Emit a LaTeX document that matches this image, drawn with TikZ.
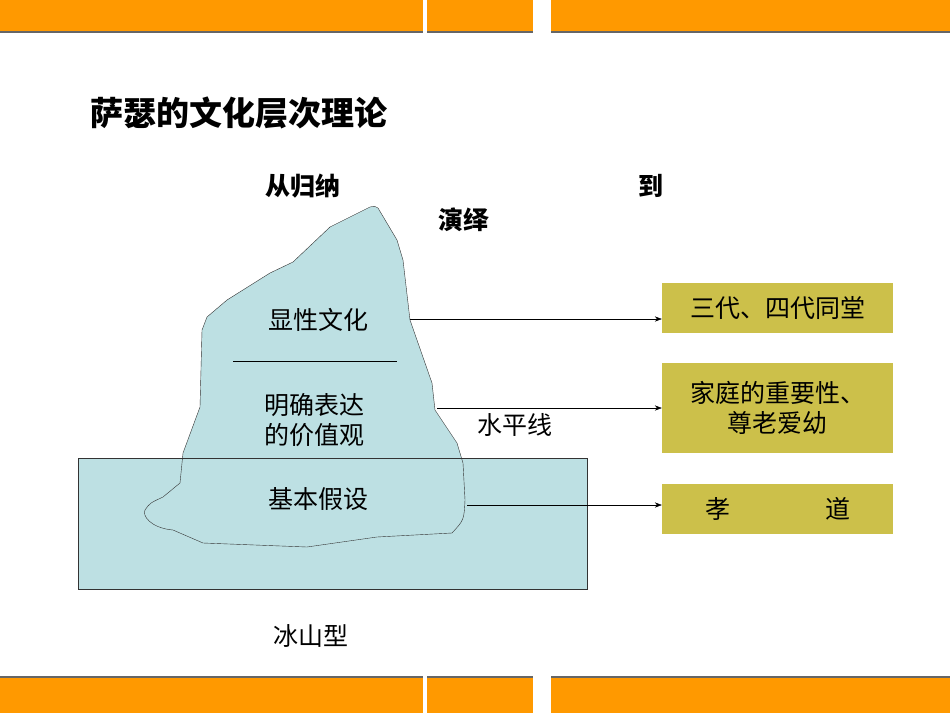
\documentclass[tikz,border=0pt]{standalone}
\usepackage{fontspec}
\usetikzlibrary{arrows.meta}
\newfontfamily\cjk{Noto Sans CJK SC}
\definecolor{orng}{HTML}{FF9900}
\definecolor{ice}{HTML}{BDE0E3}
\definecolor{olive}{HTML}{CCC04A}
\begin{document}
\begin{tikzpicture}[x=1pt,y=-1pt,
  txt/.style={font=\cjk\fontsize{25}{30}\selectfont,align=center,inner sep=0},
  btxt/.style={font=\cjk\bfseries\fontsize{25}{28}\selectfont,inner sep=0},
  obox/.style={fill=olive,draw=none},
  arr/.style={-{Stealth[length=7pt]},thin}]
\useasboundingbox (0,0) rectangle (950,713);
\fill[orng] (0,0) rectangle (950,31);
\fill[black!60] (0,31) rectangle (950,33);
\fill[white] (423,0) rectangle (427,33);
\fill[white] (533,0) rectangle (551,33);
\fill[orng] (0,678) rectangle (950,713);
\fill[black!60] (0,676) rectangle (950,678);
\fill[white] (423,676) rectangle (427,713);
\fill[white] (533,676) rectangle (551,713);
\node[btxt,font=\cjk\bfseries\fontsize{33}{36}\selectfont,anchor=west] (title) at (90,113) {萨瑟的文化层次理论};
\node[btxt] (a) at (303,186) {从归纳};
\node[btxt] (b) at (651,186) {到};
\node[btxt] (c) at (463,220) {演绎};
\fill[ice] (78,458) rectangle (587,589);
\def\ice{(370,207) .. controls (375,206) .. (378,208) -- (397,240) -- (403,260) -- (410,320) -- (432,383) -- (435,410) -- (457,443) -- (463,463) -- (465,500) .. controls (464,520) .. (452,533) -- (377,537) -- (307,547) -- (203,543) -- (173,530) .. controls (150,528) and (142,515) .. (145,510) .. controls (150,503) .. (163,497) -- (180,483) -- (183,453) -- (200,407) -- (202,330) -- (207,317) -- (227,300) -- (270,273) -- (293,262) -- (330,227) -- cycle}
\fill[ice] \ice;
\draw[black!80,thin] (78,458) rectangle (587,589);
\draw[black!80,thin] \ice;
\draw (233,361) -- (397,361);
\node[txt] (n1) at (318,320) {显性文化};
\node[txt] (n2) at (314,420) {明确表达\\的价值观};
\node[txt] (n3) at (318,499) {基本假设};
\node[txt] (w) at (515,425) {水平线};
\node[txt] (m) at (311,636) {冰山型};
\node[obox,minimum width=231,minimum height=50,txt] (r1) at (777.5,308) {三代、四代同堂};
\node[obox,minimum width=231,minimum height=90,txt] (r2) at (777.5,408) {家庭的重要性、\\尊老爱幼};
\node[obox,minimum width=231,minimum height=50,txt] (r3) at (777.5,509) {孝\hspace{95pt}道};
\coordinate (s1) at (410,319); \coordinate (s2) at (437,408); \coordinate (s3) at (467,505);
\draw[arr] (s1) -- (r1.west|-s1);
\draw[arr] (s2) -- (r2.west|-s2);
\draw[arr] (s3) -- (r3.west|-s3);
\end{tikzpicture}
\end{document}
